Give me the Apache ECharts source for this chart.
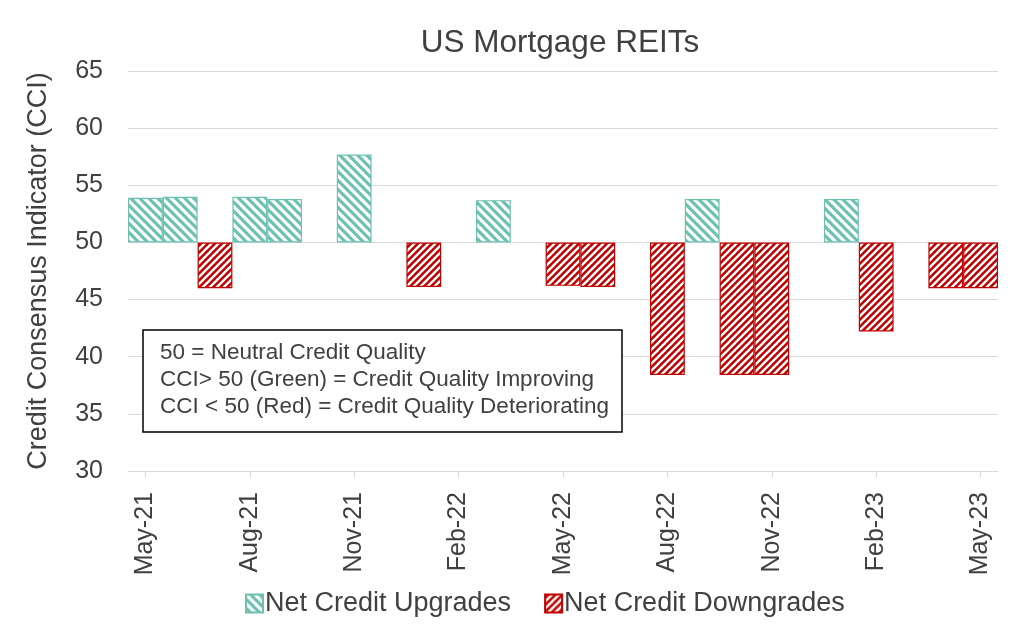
<!DOCTYPE html>
<html>
<head>
<meta charset="utf-8">
<script src="https://cdn.jsdelivr.net/npm/echarts@6/dist/echarts.min.js"></script>
<style>html,body{margin:0;padding:0;background:#fff;}#c{width:1024px;height:640px;}</style>
</head>
<body>
<div id="c"></div>
<script>
const categories = ['May-21','Jun-21','Jul-21','Aug-21','Sep-21','Oct-21','Nov-21','Dec-21','Jan-22','Feb-22','Mar-22','Apr-22',
  'May-22','Jun-22','Jul-22','Aug-22','Sep-22','Oct-22','Nov-22','Dec-22','Jan-23','Feb-23','Mar-23','Apr-23','May-23'];
const cciValues = [53.9, 54.0, 46.0, 54.0, 53.8, 50, 57.7, 50, 46.1, 50, 53.7, 50,
  46.2, 46.1, 50, 38.4, 53.8, 38.4, 38.4, 50, 53.8, 42.2, 50, 46.0, 46.0];
const yTicks = [30, 35, 40, 45, 50, 55, 60, 65];
const neutral = 50;
const noteLines = ['50 = Neutral Credit Quality', 'CCI> 50 (Green) = Credit Quality Improving', 'CCI < 50 (Red) = Credit Quality Deteriorating'];

const GREEN = '#6cc1b1';
const RED = '#c00000';
const FONT = 'Liberation Sans, Arial, sans-serif';
const TXT = '#404040';

function makePattern(bg, dir, size, lw) {
  const c = document.createElement('canvas');
  c.width = size; c.height = size;
  const g = c.getContext('2d');
  g.fillStyle = bg; g.fillRect(0, 0, size, size);
  g.strokeStyle = '#ffffff'; g.lineWidth = lw;
  for (let k = -1; k <= 1; k++) {
    g.beginPath();
    if (dir === 'back') { g.moveTo(k * size - 1, -1); g.lineTo(k * size + size + 1, size + 1); }
    else { g.moveTo(k * size - 1, size + 1); g.lineTo(k * size + size + 1, -1); }
    g.stroke();
  }
  return c;
}
const greenPat = { image: makePattern(GREEN, 'back', 9, 3.2), repeat: 'repeat' };
const redPat = { image: makePattern(RED, 'fwd', 7, 2.4), repeat: 'repeat' };

const baseData = cciValues.map(v => Math.min(v, neutral));
const upData = cciValues.map(v => v > neutral ? +(v - neutral).toFixed(2) : '-');
const downData = cciValues.map(v => v < neutral ? +(neutral - v).toFixed(2) : '-');

const chart = echarts.init(document.getElementById('c'));
chart.setOption({
  animation: false,
  backgroundColor: '#fff',
  title: { text: 'US Mortgage REITs', left: 560, textAlign: 'center', top: 27, padding: 0,
    textStyle: { fontFamily: FONT, fontSize: 31.5, fontWeight: 'normal', color: TXT } },
  grid: { left: 128, right: 26, top: 71, bottom: 169 },
  legend: {
    data: [{ name: 'Net Credit Upgrades', itemStyle: { color: greenPat } },
           { name: 'Net Credit Downgrades', itemStyle: { color: redPat } }],
    bottom: 18, left: 240, itemWidth: 17, itemHeight: 18, itemGap: 33,
    textStyle: { fontFamily: FONT, fontSize: 27, color: TXT, padding: [0, 0, 0, -3] }, icon: 'rect'
  },
  xAxis: {
    type: 'category', data: categories, boundaryGap: true,
    axisLine: { lineStyle: { color: '#d9d9d9', width: 1 } },
    axisTick: { show: true, interval: 2, alignWithLabel: true, length: 6, lineStyle: { color: '#d9d9d9' } },
    axisLabel: { interval: 2, rotate: 90, fontFamily: FONT, fontSize: 25, color: TXT, margin: 21 }
  },
  yAxis: {
    type: 'value', min: yTicks[0], max: yTicks[yTicks.length - 1], interval: 5,
    name: 'Credit Consensus Indicator (CCI)', nameLocation: 'middle', nameGap: 76,
    nameTextStyle: { fontFamily: FONT, fontSize: 27, color: TXT },
    axisLine: { show: false }, axisTick: { show: false },
    axisLabel: { fontFamily: FONT, fontSize: 25, color: TXT, margin: 25 },
    splitLine: { lineStyle: { color: '#d9d9d9', width: 1 } }
  },
  series: [
    { name: 'base', type: 'bar', stack: 'cci', data: baseData, barCategoryGap: '0%', silent: true,
      itemStyle: { color: 'rgba(0,0,0,0)' } },
    { name: 'Net Credit Upgrades', type: 'bar', stack: 'cci', data: upData,
      itemStyle: { color: greenPat, borderColor: GREEN, borderWidth: 1.2 } },
    { name: 'Net Credit Downgrades', type: 'bar', stack: 'cci', data: downData,
      itemStyle: { color: redPat, borderColor: RED, borderWidth: 1.2 } }
  ],
  graphic: [
    { type: 'rect', shape: { x: 143, y: 330, width: 479, height: 102 },
      style: { fill: '#fff', stroke: '#000', lineWidth: 1.5 }, z: 100 },
    { type: 'text', left: 160, top: 339, z: 101,
      style: { text: noteLines.join('\n'), font: '22.5px ' + FONT, fill: TXT, lineHeight: 27 } }
  ]
});
</script>
</body>
</html>
